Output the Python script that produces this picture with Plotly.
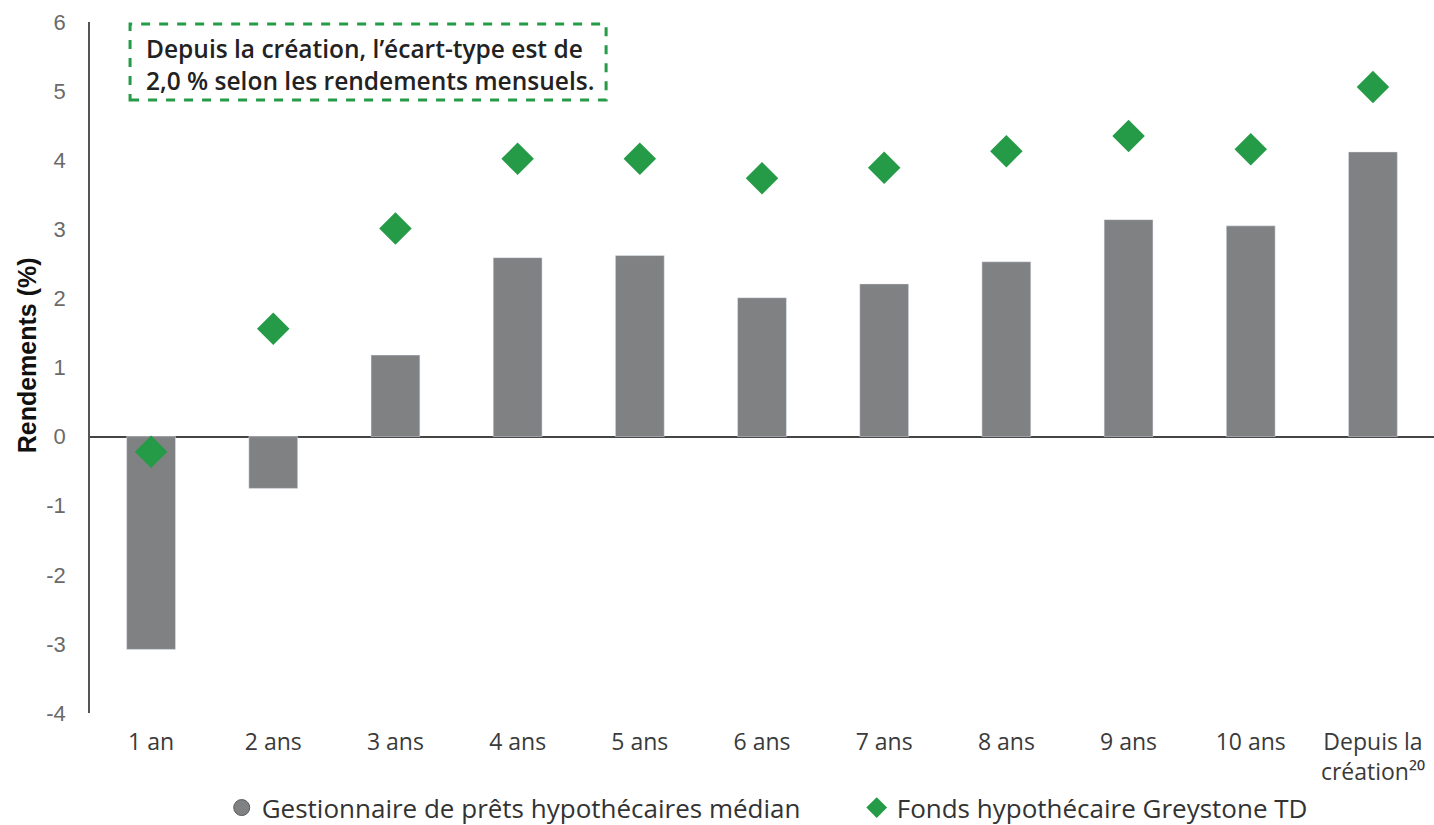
import plotly.graph_objects as go

categories = ["1 an", "2 ans", "3 ans", "4 ans", "5 ans", "6 ans", "7 ans",
              "8 ans", "9 ans", "10 ans", "Depuis la<br>création²⁰"]
median_manager = [-3.08, -0.75, 1.18, 2.59, 2.62, 2.01, 2.21, 2.53, 3.14, 3.05, 4.12]
greystone_fund = [-0.22, 1.56, 3.01, 4.02, 4.02, 3.74, 3.89, 4.13, 4.35, 4.16, 5.06]
y_ticks = [-4, -3, -2, -1, 0, 1, 2, 3, 4, 5, 6]
y_tick_labels = ["-4", "-3", "-2", "-1", "0", "1", "2", "3", "4", "5", "6"]

FONT = "Open Sans"
GRAY = "#808183"
GREEN = "#259b48"

fig = go.Figure()
fig.add_trace(go.Bar(
    x=categories, y=median_manager, marker_color=GRAY, showlegend=False,
    name="Gestionnaire de prêts hypothécaires médian"))
fig.add_trace(go.Scatter(
    x=[None], y=[None], mode="markers",
    marker=dict(symbol="circle", color=GRAY, size=16, line=dict(color="#5a5a5a", width=1)),
    name="Gestionnaire de prêts hypothécaires médian"))
fig.add_trace(go.Scatter(
    x=categories, y=greystone_fund, mode="markers",
    marker=dict(symbol="diamond", color=GREEN, size=25),
    name="Fonds hypothécaire Greystone TD"))

fig.add_shape(type="rect", xref="paper", yref="paper",
              x0=0.0298, x1=0.384, y0=0.887, y1=0.997,
              line=dict(color=GREEN, width=3, dash="dash"))
fig.add_annotation(xref="paper", yref="paper", x=0.2085, y=0.939,
                   xanchor="center", yanchor="middle",
                   text="Depuis la création, l’écart-type est de<br>2,0 % selon les rendements mensuels.",
                   showarrow=False, align="left",
                   font=dict(family=FONT, size=24.5, color="#222222", weight=600))
fig.add_annotation(xref="paper", yref="paper", x=-0.0467, y=0.518,
                   xanchor="center", yanchor="middle", textangle=-90,
                   text="<b>Rendements (%)</b>", showarrow=False,
                   font=dict(family="Liberation Sans", size=25, color="#111111"))

fig.update_layout(
    width=1434, height=825,
    margin=dict(l=90, r=0, t=22, b=112, autoexpand=False),
    plot_bgcolor="white", paper_bgcolor="white",
    bargap=0.6,
    font=dict(family=FONT, size=20, color="#555555"),
    legend=dict(orientation="h", x=0.098, xanchor="left", y=-0.137, yanchor="middle",
                font=dict(family=FONT, size=26, color="#333333"),
                entrywidth=590, entrywidthmode="pixels",
                itemsizing="trace", traceorder="normal"),
    xaxis=dict(range=[-0.5, 10.5], showline=False, showgrid=False, zeroline=False, ticks="",
               ticklabelstandoff=13,
               tickfont=dict(family=FONT, size=23, color="#3a3a3a")),
    yaxis=dict(range=[-4, 6], tickvals=y_ticks, ticktext=y_tick_labels, showgrid=False,
               zeroline=True, zerolinecolor="#444444", zerolinewidth=1.5,
               showline=True, linecolor="#555555", linewidth=1.5,
               ticks="", ticklabelstandoff=18,
               tickfont=dict(family="Liberation Sans", size=22, color="#6a6a6a")),
)

fig.write_html("out.html")
